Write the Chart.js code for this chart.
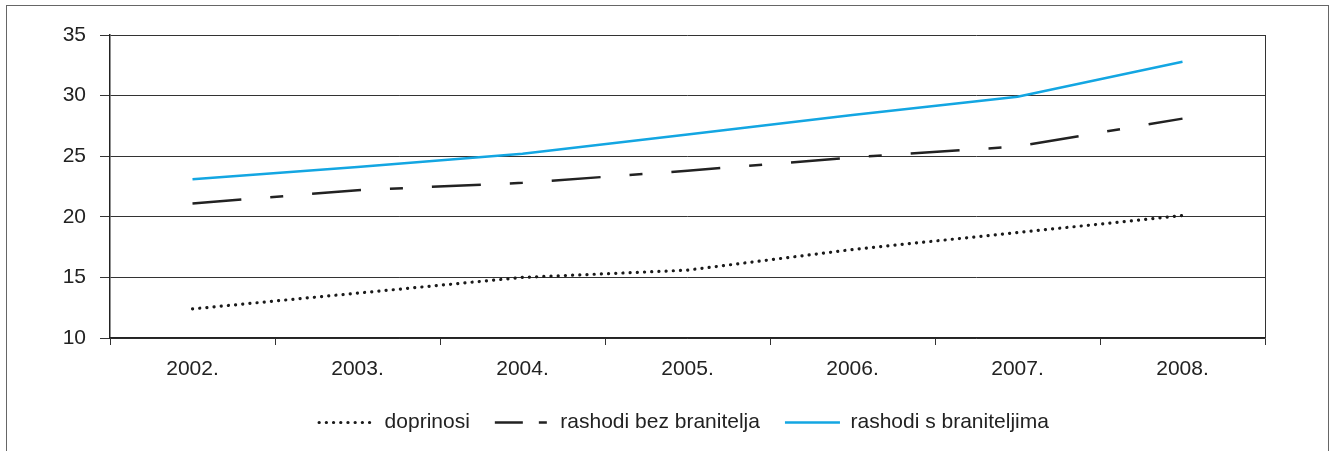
<!DOCTYPE html>
<html>
<head>
<meta charset="utf-8">
<script src="https://cdn.jsdelivr.net/npm/chart.js@4.4.1/dist/chart.umd.min.js"></script>
<style>
    html, body { margin: 0; padding: 0; background: #fff; overflow: hidden; }
    #wrap { position: relative; width: 1333px; height: 451px; }
    #frame {
        position: absolute; left: 6px; top: 5px; width: 1323px; height: 520px;
        border: 1.5px solid #666; box-sizing: border-box;
    }
    canvas { position: absolute; left: 0; top: 0; }
</style>
</head>
<body>
<div id="wrap">
    <div id="frame"></div>
    <canvas id="chart"></canvas>
</div>
<script>
const years = ['2002.', '2003.', '2004.', '2005.', '2006.', '2007.', '2008.'];
const doprinosi = [12.4, 13.7, 15.0, 15.6, 17.3, 18.7, 20.1];
const rashodiBez = [21.1, 22.2, 22.8, 23.8, 24.9, 25.8, 28.1];
const rashodiS = [23.1, 24.1, 25.2, 26.8, 28.4, 29.9, 32.8];
const yTicks = [10, 15, 20, 25, 30, 35];

Chart.defaults.font.family = "'Liberation Sans', Arial, sans-serif";
Chart.defaults.font.size = 21;
Chart.defaults.color = '#222';

// right edge of the plot frame, and legend centred under the plot
const plotFrame = {
    id: 'plotFrame',
    beforeDraw(chart) {
        if (chart.legend) {
            chart.legend.left = chart.chartArea.left - 7;
            chart.legend.right = chart.chartArea.right;
        }
    },
    afterDraw(chart) {
        const { ctx, chartArea } = chart;
        ctx.save();
        ctx.strokeStyle = '#333';
        ctx.lineWidth = 1;
        ctx.beginPath();
        ctx.moveTo(Math.round(chartArea.right) + 0.5, chartArea.top);
        ctx.lineTo(Math.round(chartArea.right) + 0.5, chartArea.bottom);
        ctx.stroke();
        ctx.restore();
    }
};

const legendDash = [[0.1, 7.1], [28, 16, 8, 60], []];

const ctx = document.getElementById('chart').getContext('2d');
const chart = new Chart(ctx, {
    type: 'line',
    data: {
        labels: years,
        datasets: [{
            label: 'doprinosi',
            data: doprinosi,
            borderColor: '#1a1a1a',
            borderWidth: 3.2,
            borderDash: [0.1, 7.1],
            borderCapStyle: 'round',
            pointRadius: 0,
            tension: 0
        }, {
            label: 'rashodi bez branitelja',
            data: rashodiBez,
            borderColor: '#222',
            borderWidth: 2.5,
            borderDash: [49, 29, 13, 29],
            pointRadius: 0,
            tension: 0
        }, {
            label: 'rashodi s braniteljima',
            data: rashodiS,
            borderColor: '#13a6e2',
            borderWidth: 2.5,
            pointRadius: 0,
            tension: 0
        }]
    },
    options: {
        responsive: true,
        maintainAspectRatio: false,
        animation: false,
        layout: {
            padding: { left: 3, right: 68, top: 35, bottom: 8 }
        },
        plugins: {
            tooltip: { enabled: false },
            legend: {
                position: 'bottom',
                labels: {
                    usePointStyle: true,
                    pointStyle: 'line',
                    pointStyleWidth: 55,
                    boxWidth: 55,
                    padding: 25,
                    color: '#222',
                    generateLabels(chart) {
                        const items = Chart.defaults.plugins.legend.labels.generateLabels(chart);
                        items.forEach(item => {
                            const ds = chart.data.datasets[item.datasetIndex];
                            item.pointStyle = 'line';
                            item.lineDash = legendDash[item.datasetIndex];
                            item.lineCap = item.datasetIndex === 0 ? 'round' : 'butt';
                            item.lineWidth = ds.borderWidth;
                            item.strokeStyle = ds.borderColor;
                        });
                        return items;
                    }
                }
            }
        },
        scales: {
            x: {
                offset: true,
                grid: {
                    offset: true,
                    drawOnChartArea: false,
                    drawTicks: true,
                    tickLength: 7,
                    color: '#333'
                },
                border: { color: '#222', width: 1.5 },
                ticks: { padding: 12, maxRotation: 0 },
                afterFit(scale) { scale.height = 49; }
            },
            y: {
                min: 10,
                max: 35,
                afterBuildTicks(scale) { scale.ticks = yTicks.map(v => ({ value: v })); },
                grid: {
                    color: '#333',
                    lineWidth: 1,
                    tickLength: 10
                },
                border: { color: '#222', width: 1.5 },
                ticks: { padding: 14 },
                afterFit(scale) { scale.width = 107; }
            }
        }
    },
    plugins: [plotFrame]
});
</script>
</body>
</html>
